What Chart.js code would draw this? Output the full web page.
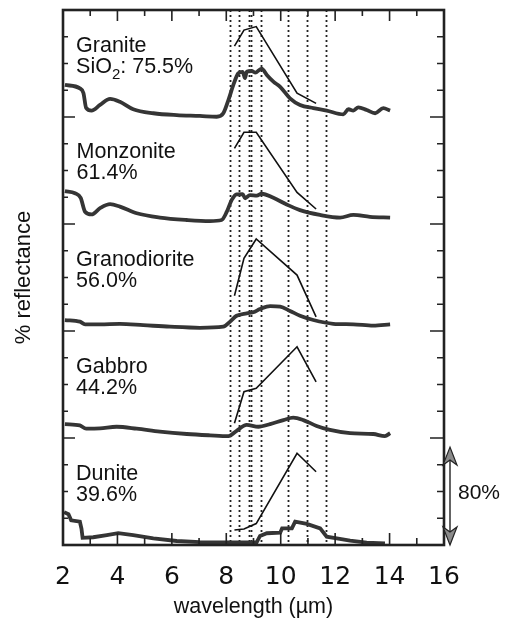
<!DOCTYPE html>
<html>
<head>
<meta charset="utf-8">
<script src="https://cdn.jsdelivr.net/npm/chart.js@4.4.1/dist/chart.umd.min.js"></script>
<style>
  html, body { margin: 0; padding: 0; background: #fff; }
  #wrap { width: 509px; height: 620px; }
</style>
</head>
<body>
<div id="wrap"><canvas id="chart" width="509" height="620"></canvas></div>
<script>
// ASTER TIR band centres and band edges (um)
const bandCenters = [8.3, 8.65, 9.1, 10.6, 11.3];
const bandEdges = [8.125, 8.475, 8.825, 8.925, 9.275, 10.25, 10.95, 11.65];

// band-averaged reflectance (offset units)
const graniteBands = [18.65, 19.25, 19.38, 16.89, 16.51];
const monzoniteBands = [14.83, 15.43, 15.43, 13.18, 12.56];
const granodioriteBands = [9.32, 10.72, 11.44, 10.09, 8.53];
const gabbroBands = [4.55, 5.73, 5.86, 7.41, 6.1];
const duniteBands = [0.56, 0.6, 0.8, 3.43, 2.74];

// lab spectra (wavelength, offset reflectance)
const graniteWl = [2.07, 2.62, 2.75, 2.85, 3.05, 3.36, 3.73, 4.09, 4.58, 5.32, 6.18, 7.03, 7.65, 7.89, 8.08, 8.26, 8.44, 8.6, 8.69, 8.75, 8.93, 9.06, 9.3, 9.49, 9.73, 9.98, 10.34, 10.71, 11.2, 11.69, 12.3, 12.49, 12.67, 12.85, 13.16, 13.47, 13.77, 14.02];
const graniteRefl = [17.2, 17.07, 16.9, 16.34, 16.24, 16.45, 16.68, 16.57, 16.29, 16.14, 16.07, 16.04, 16.01, 16.14, 16.64, 17.2, 17.63, 17.69, 17.45, 17.69, 17.72, 17.66, 17.81, 17.57, 17.32, 17.13, 16.7, 16.45, 16.33, 16.24, 16.1, 16.29, 16.24, 16.36, 16.26, 16.14, 16.33, 16.24];

const monzoniteWl = [2.07, 2.44, 2.65, 2.81, 3.05, 3.36, 3.73, 4.09, 4.71, 5.56, 6.55, 7.4, 7.83, 8.02, 8.2, 8.38, 8.6, 8.69, 8.87, 9.12, 9.3, 9.73, 10.22, 10.71, 11.44, 12.18, 12.67, 13.28, 14.02];
const monzoniteRefl = [13.23, 13.15, 12.98, 12.46, 12.36, 12.59, 12.74, 12.65, 12.4, 12.24, 12.15, 12.11, 12.15, 12.46, 12.9, 13.11, 13.12, 12.96, 13.08, 13.06, 13.13, 12.98, 12.73, 12.52, 12.34, 12.24, 12.34, 12.27, 12.24];

const granodioriteWl = [2.07, 2.62, 2.81, 3.36, 4.09, 4.95, 5.93, 7.03, 7.89, 8.14, 8.38, 8.75, 8.99, 9.24, 9.61, 9.98, 10.34, 10.71, 11.2, 11.93, 12.67, 13.4, 14.02];
const granodioriteRefl = [8.41, 8.35, 8.25, 8.25, 8.27, 8.22, 8.16, 8.12, 8.16, 8.35, 8.57, 8.66, 8.7, 8.82, 8.93, 8.91, 8.75, 8.57, 8.41, 8.27, 8.25, 8.2, 8.25];

const gabbroWl = [2.07, 2.62, 2.85, 3.36, 3.97, 4.71, 5.56, 6.55, 7.4, 8.08, 8.38, 8.75, 9.18, 9.61, 10.1, 10.46, 10.83, 11.32, 11.81, 12.55, 13.4, 13.83, 14.02];
const gabbroRefl = [4.52, 4.47, 4.35, 4.36, 4.42, 4.35, 4.24, 4.15, 4.1, 4.07, 4.27, 4.49, 4.42, 4.52, 4.67, 4.76, 4.67, 4.45, 4.3, 4.18, 4.15, 4.07, 4.18];

const duniteWl = [2.04, 2.2, 2.3, 2.62, 2.68, 2.72, 3.11, 3.61, 4.03, 4.58, 5.32, 6.18, 7.03, 8.02, 9.12, 9.24, 9.49, 9.98, 10.05, 10.41, 10.53, 10.96, 11.45, 11.69, 12.06, 12.55, 13.16, 13.83];
const duniteRefl = [1.23, 1.15, 0.92, 0.87, 0.6, 0.27, 0.29, 0.37, 0.44, 0.37, 0.25, 0.15, 0.11, 0.1, 0.11, 0.34, 0.44, 0.46, 0.62, 0.62, 0.87, 0.79, 0.62, 0.31, 0.25, 0.16, 0.09, 0.06];

const rockNames = ['Granite', 'Monzonite', 'Granodiorite', 'Gabbro', 'Dunite'];
const silicaLabels = ['75.5%', '61.4%', '56.0%', '44.2%', '39.6%'];
const xTickValues = [2, 4, 6, 8, 10, 12, 14, 16];

// where the rock names sit (data units), and the 80% scale bar
const labelAnchors = [[2.48, 18.43], [2.5, 14.45], [2.48, 10.43], [2.48, 6.42], [2.48, 2.43]];
const scaleBar = [0, 3.66];

const FONT = '"Liberation Sans", Arial, Helvetica, sans-serif';
const TICK_FONT = '"DejaVu Sans", "Liberation Sans", sans-serif';
const INK = '#111';

const pairs = (xs, ys) => xs.map((x, i) => ({ x: x, y: ys[i] }));

const spectrum = (xs, ys, smooth) => ({
    data: pairs(xs, ys),
    borderColor: '#353535',
    borderWidth: 3.8,
    pointRadius: 0,
    cubicInterpolationMode: smooth ? 'monotone' : 'default',
    tension: 0
});

const bandLine = ys => ({
    data: pairs(bandCenters, ys),
    borderColor: '#111',
    borderWidth: 1.6,
    pointRadius: 0,
    tension: 0
});

const overlay = {
    id: 'overlay',
    beforeDatasetsDraw(chart) {
        const { ctx, chartArea: a, scales: { x } } = chart;
        ctx.save();
        ctx.strokeStyle = '#222';
        ctx.lineWidth = 1.8;
        ctx.setLineDash([2, 3]);
        bandEdges.forEach(w => {
            const px = Math.round(x.getPixelForValue(w)) + 0.5;
            ctx.beginPath();
            ctx.moveTo(px, a.top);
            ctx.lineTo(px, a.bottom);
            ctx.stroke();
        });
        ctx.restore();
    },
    afterDatasetsDraw(chart) {
        const { ctx, chartArea: a, scales: { x, y } } = chart;
        ctx.save();
        ctx.strokeStyle = '#222';
        ctx.lineWidth = 2.6;
        ctx.strokeRect(a.left, a.top, a.right - a.left, a.bottom - a.top);

        // inward tick marks on all four sides
        ctx.lineWidth = 1.6;
        ctx.beginPath();
        for (let v = 3; v < 16; v++) {
            const px = x.getPixelForValue(v);
            const even = v % 2 === 0;
            ctx.moveTo(px, a.bottom);
            ctx.lineTo(px, a.bottom - (even ? 12 : 7));
            ctx.moveTo(px, a.top);
            ctx.lineTo(px, a.top + (even ? 11 : 6));
        }
        for (let v = 1; v < 20; v++) {
            const py = y.getPixelForValue(v);
            const major = v % 4 === 0;
            ctx.moveTo(a.left, py);
            ctx.lineTo(a.left + (major ? 12 : 5), py);
            ctx.moveTo(a.right, py);
            ctx.lineTo(a.right - (major ? 14 : 7), py);
        }
        ctx.stroke();

        // rock names and silica content
        ctx.fillStyle = INK;
        ctx.textBaseline = 'alphabetic';
        ctx.font = '21.5px ' + FONT;
        rockNames.forEach((name, i) => {
            const lx = x.getPixelForValue(labelAnchors[i][0]);
            const ly = y.getPixelForValue(labelAnchors[i][1]);
            ctx.fillText(name, lx, ly);
            const l2 = ly + 21;
            if (i === 0) {
                ctx.fillText('SiO', lx, l2);
                let w = ctx.measureText('SiO').width;
                ctx.font = '15px ' + FONT;
                ctx.fillText('2', lx + w, l2 + 6);
                w += ctx.measureText('2').width;
                ctx.font = '21.5px ' + FONT;
                ctx.fillText(': ' + silicaLabels[i], lx + w, l2);
            } else {
                ctx.fillText(silicaLabels[i], lx, l2);
            }
        });

        // 80% scale bar
        const ax = a.right + 6;
        const yTop = y.getPixelForValue(scaleBar[1]);
        const yBot = y.getPixelForValue(scaleBar[0]);
        ctx.lineWidth = 1.4;
        ctx.beginPath();
        ctx.moveTo(ax, yTop + 10);
        ctx.lineTo(ax, yBot - 10);
        ctx.stroke();
        ctx.fillStyle = '#8a8a8a';
        ctx.lineWidth = 1.2;
        [[yTop, 1], [yBot, -1]].forEach(([tip, dir]) => {
            ctx.beginPath();
            ctx.moveTo(ax, tip);
            ctx.lineTo(ax - 7, tip + dir * 18);
            ctx.lineTo(ax, tip + dir * 13);
            ctx.lineTo(ax + 7, tip + dir * 18);
            ctx.closePath();
            ctx.fill();
            ctx.stroke();
        });
        ctx.fillStyle = INK;
        ctx.font = '21px ' + FONT;
        ctx.fillText('80%', ax + 8, (yTop + yBot) / 2 + 3);
        ctx.restore();
    }
};

new Chart(document.getElementById('chart'), {
    type: 'line',
    data: {
        datasets: [
            spectrum(graniteWl, graniteRefl, true),
            spectrum(monzoniteWl, monzoniteRefl, true),
            spectrum(granodioriteWl, granodioriteRefl, true),
            spectrum(gabbroWl, gabbroRefl, true),
            spectrum(duniteWl, duniteRefl, false),
            bandLine(graniteBands),
            bandLine(monzoniteBands),
            bandLine(granodioriteBands),
            bandLine(gabbroBands),
            bandLine(duniteBands)
        ]
    },
    options: {
        responsive: false,
        animation: false,
        events: [],
        layout: { padding: { left: 0, right: 65, top: 10, bottom: 0 } },
        plugins: { legend: { display: false }, tooltip: { enabled: false } },
        scales: {
            x: {
                type: 'linear',
                min: 2,
                max: 16,
                grid: { display: false, drawTicks: false },
                border: { display: false },
                ticks: {
                    stepSize: 1,
                    autoSkip: false,
                    maxRotation: 0,
                    padding: 17,
                    color: INK,
                    font: { family: TICK_FONT, size: 25 },
                    callback: v => (xTickValues.includes(v) ? String(v) : '')
                },
                title: {
                    display: true,
                    text: 'wavelength (\u00b5m)',
                    color: INK,
                    font: { family: FONT, size: 21.5 },
                    padding: { top: 0, bottom: 0 }
                },
                afterFit: s => { s.height = 75; }
            },
            y: {
                min: 0,
                max: 20,
                grid: { display: false, drawTicks: false },
                border: { display: false },
                ticks: { display: false },
                title: {
                    display: true,
                    text: '% reflectance',
                    color: INK,
                    font: { family: FONT, size: 22 },
                    padding: { top: 11, bottom: 0 }
                },
                afterFit: s => { s.width = 63; }
            }
        }
    },
    plugins: [overlay]
});
</script>
</body>
</html>
